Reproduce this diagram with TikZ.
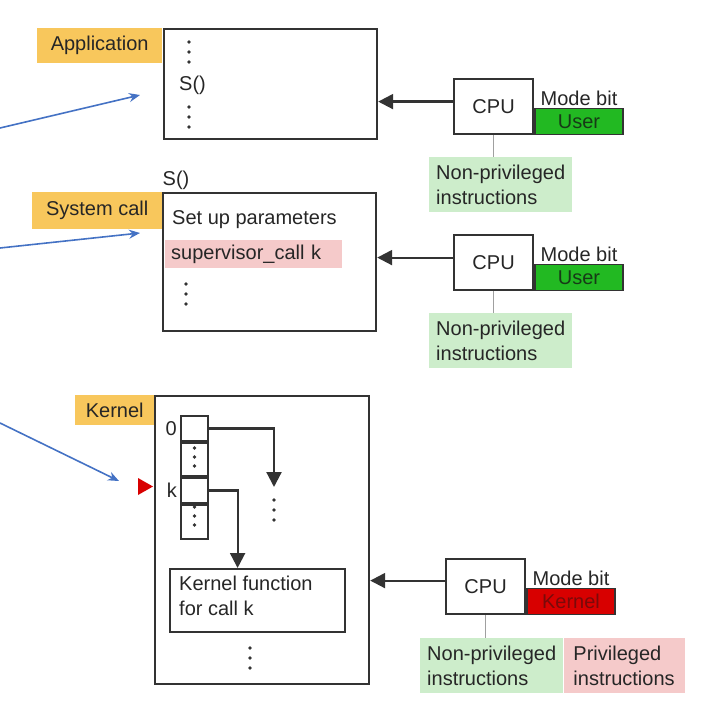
\documentclass[tikz,border=0pt]{standalone}
\usepackage{fontspec}
\setmainfont{Liberation Sans}
\usetikzlibrary{arrows.meta,positioning}

\definecolor{labelyellow}{HTML}{F8C75C}
\definecolor{nonprivgreen}{HTML}{CDEDCB}
\definecolor{privpink}{HTML}{F5CACA}
\definecolor{userbit}{HTML}{22B922}
\definecolor{usertext}{HTML}{173A17}
\definecolor{kernelbit}{HTML}{D80000}
\definecolor{kerneltext}{HTML}{7A0A0A}
\definecolor{boxline}{HTML}{333333}
\definecolor{textgray}{HTML}{262626}
\definecolor{linkgray}{HTML}{A0A0A0}
\definecolor{callblue}{HTML}{4472C4}

% three stacked dots: x, top y, spacing
\newcommand{\dotstack}[3]{%
  \foreach \dd in {0,1,2} \fill[boxline] (#1,#2+\dd*#3) circle (1.8);}

\begin{document}
\begin{tikzpicture}[x=1pt,y=-1pt,
    font=\fontsize{20}{25}\selectfont, text=textgray,
    membox/.style={draw=boxline, line width=2.2pt, inner sep=0pt, anchor=north west},
    tagbox/.style={fill=labelyellow, inner sep=0pt, minimum height=35pt, anchor=north west},
    cpubox/.style={draw=boxline, line width=2.2pt, minimum width=79pt, minimum height=55pt, inner sep=0pt, anchor=north west},
    bitbox/.style={draw=boxline, line width=1.6pt, minimum width=88pt, minimum height=26pt, inner sep=0pt, anchor=south west},
    instrbox/.style={align=left, minimum height=55pt, inner xsep=7pt, inner ysep=0pt, anchor=north west},
    cell/.style={draw=boxline, line width=2pt, minimum width=27pt, inner sep=0pt, anchor=north},
    ptr/.style={draw=boxline, line width=2.2pt, -{Triangle[length=15pt,width=15pt]}},
    call/.style={draw=callblue, line width=1.6pt, -{Stealth[length=11pt,width=9pt]}},
    link/.style={draw=linkgray, line width=1.6pt}]

    \useasboundingbox (0,0) rectangle (702,706);

    % application
    \node[membox, minimum width=213pt, minimum height=110pt] (app) at (163,28) {};
    \node[tagbox, minimum width=125pt] (apptag) at (37,28) {Application};
    \dotstack{189}{42}{10}
    \node[anchor=west, inner sep=0pt] (appcall) at (179,85) {S()};
    \dotstack{189}{107}{10}

    \node[cpubox] (cpu1) at (453,78) {CPU};
    \node[bitbox, fill=userbit, text=usertext] (bit1) at (cpu1.south east) {User};
    \node[anchor=south, inner sep=2pt] (mode1) at (bit1.north) {Mode bit};
    \node[instrbox, fill=nonprivgreen] (np1) at (429,157) {Non-privileged\\instructions};
    \draw[link] (cpu1.south) -- (np1.north -| cpu1.south);
    \draw[ptr] ([yshift=5pt]cpu1.west) -- ([yshift=5pt]cpu1.west -| app.east);

    % system call
    \node[anchor=south, inner sep=2pt] (sysname) at (176,192) {S()};
    \node[membox, minimum width=213pt, minimum height=138pt] (sys) at (162,192) {};
    \node[tagbox, minimum width=130pt, minimum height=37pt] (systag) at (32,192) {System call};
    \node[anchor=west, inner sep=0pt] (setup) at (172,220) {Set up parameters};
    \node[fill=privpink, anchor=north west, minimum width=177pt, minimum height=28pt,
          inner xsep=6pt, inner ysep=0pt, text width=165pt] (svc) at (165,240) {supervisor\_call k};
    \dotstack{186}{284}{10}

    \node[cpubox] (cpu2) at (453,234) {CPU};
    \node[bitbox, fill=userbit, text=usertext] (bit2) at (cpu2.south east) {User};
    \node[anchor=south, inner sep=2pt] (mode2) at (bit2.north) {Mode bit};
    \node[instrbox, fill=nonprivgreen] (np2) at (429,313) {Non-privileged\\instructions};
    \draw[link] (cpu2.south) -- (np2.north -| cpu2.south);
    \draw[ptr] ([yshift=5pt]cpu2.west) -- ([yshift=5pt]cpu2.west -| sys.east);

    % kernel
    \node[membox, minimum width=214pt, minimum height=288pt] (kern) at (154,395) {};
    \node[tagbox, minimum width=79pt, minimum height=30pt] (kerntag) at (75,395) {Kernel};
    \node[cell, minimum height=25pt] (cell0) at (194.5,415) {};
    \node[cell, minimum height=33pt, below=0pt of cell0] (cell1) {};
    \node[cell, minimum height=25pt, below=0pt of cell1] (cellk) {};
    \node[cell, minimum height=34pt, below=0pt of cellk] (cell2) {};
    \dotstack{194.5}{448}{9}
    \dotstack{194.5}{507}{9}
    \node[left=3pt of cell0, inner sep=0pt] (idx0) {0};
    \node[left=3pt of cellk, inner sep=0pt] (idxk) {k};
    \node[membox, minimum width=175pt, minimum height=63pt] (kfunc) at (169,568) {};
    \node[anchor=north west, align=left, inner sep=0pt] (kfunctext) at (179,576) {Kernel function\\for call k};
    \coordinate (other) at (274,487);
    \draw[ptr] (cell0.east) -| (other);
    \dotstack{274}{500}{10}
    \draw[ptr] (cellk.east) -| ([xshift=-20pt]kfunc.north);
    \dotstack{250}{648}{10}
    \fill[kernelbit] (138,478) -- (153,486.5) -- (138,495) -- cycle;

    \node[cpubox] (cpu3) at (445,558) {CPU};
    \node[bitbox, fill=kernelbit, text=kerneltext] (bit3) at (cpu3.south east) {Kernel};
    \node[anchor=south, inner sep=2pt] (mode3) at (bit3.north) {Mode bit};
    \node[instrbox, fill=nonprivgreen] (np3) at (420,638) {Non-privileged\\instructions};
    \node[instrbox, fill=privpink, right=0pt of np3, minimum width=121pt] (pv3) {Privileged\\instructions};
    \draw[link] (cpu3.south) -- (np3.north -| cpu3.south);
    \draw[ptr] ([yshift=6pt]cpu3.west) -- ([yshift=6pt]cpu3.west -| kern.east);

    % calls coming in from the left
    \coordinate (from1) at (0,128);
    \coordinate (to1) at (140,95);
    \coordinate (from2) at (0,248);
    \coordinate (to2) at (140,233);
    \coordinate (from3) at (0,423);
    \coordinate (to3) at (119,481);
    \draw[call] (from1) -- (to1);
    \draw[call] (from2) -- (to2);
    \draw[call] (from3) -- (to3);

\end{tikzpicture}
\end{document}
